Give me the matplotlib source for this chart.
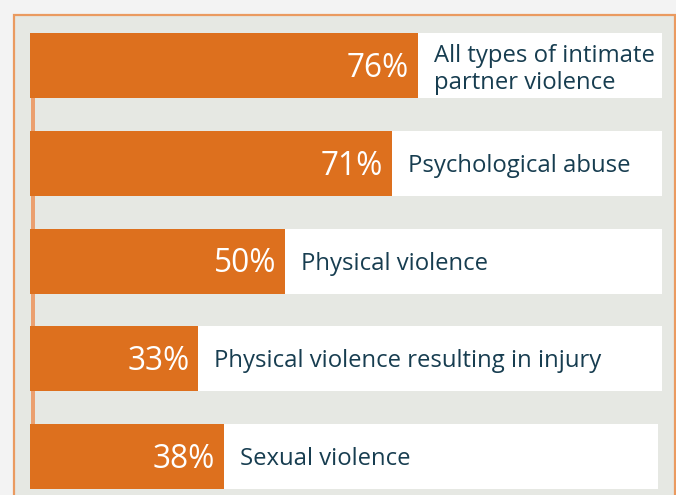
import matplotlib
matplotlib.use("Agg")
import matplotlib.pyplot as plt
from matplotlib.patches import Rectangle
from matplotlib.transforms import offset_copy

categories = ["All types of intimate\npartner violence", "Psychological abuse",
              "Physical violence", "Physical violence resulting in injury",
              "Sexual violence"]
values = [76, 71, 50, 33, 38]

W, H = 676, 495
ORANGE = "#dd701e"
TEXT = "#173d50"
FRAME_FILL = "#e6e8e3"
FRAME_EDGE = "#ea9a60"
BG = "#f3f3f3"

PX_PER = 5.1      # pixels per percent
X0 = 30           # pixel x of 0%
ROW0 = 65.5       # pixel y of first row centre
PITCH = 97.75     # pixels between rows

fig = plt.figure(figsize=(W / 100, H / 100), dpi=100)
fig.patch.set_facecolor(BG)

# frame
fig.add_artist(Rectangle((14 / W, -0.05), (675 - 14) / W, 1.05 - 15 / H,
                         transform=fig.transFigure, facecolor=FRAME_FILL,
                         edgecolor=FRAME_EDGE, linewidth=1.6, zorder=0))

ax = fig.add_axes([0, 0, 1, 1])
ax.set_facecolor("none")
ax.set_xlim(-X0 / PX_PER, (W - X0) / PX_PER)
ax.set_ylim((H - ROW0) / PITCH, -ROW0 / PITCH)
ax.axis("off")

ys = list(range(len(values)))
bar_h = 65 / PITCH
box_right = [(662 - X0) / PX_PER] * 4 + [(658 - X0) / PX_PER]

# thin vertical connector
ax.plot([3 / PX_PER, 3 / PX_PER], [0, len(values) - 1],
        color="#eba070", linewidth=4 * 0.72, solid_capstyle="butt", zorder=1)

ax.barh(ys, box_right, height=bar_h, color="white", zorder=2)
ax.barh(ys, values, height=bar_h, color=ORANGE, zorder=3)

pct_tr = offset_copy(ax.transData, fig=fig, x=0, y=-11.4, units="dots")
lab_tr = offset_copy(ax.transData, fig=fig, x=0, y=-8.7, units="dots")
multi_tr = offset_copy(ax.transData, fig=fig, x=0, y=-4.0, units="dots")

for y, v, lab in zip(ys, values, categories):
    ax.text(v - 1.7, y, f"{v}%", ha="right", va="baseline", color="white",
            fontsize=22.8, family="Open Sans",
            transform=pct_tr, zorder=4)
    if "\n" in lab:
        ax.text(v + 3.14, y, lab, ha="left", va="center", color=TEXT,
                fontsize=17.2, family="Open Sans", linespacing=1.16,
                transform=multi_tr, zorder=4)
    else:
        ax.text(v + 3.14, y, lab, ha="left", va="baseline", color=TEXT,
                fontsize=17.2, family="Open Sans", transform=lab_tr, zorder=4)

fig.savefig("out.png", dpi=100, facecolor=BG)
